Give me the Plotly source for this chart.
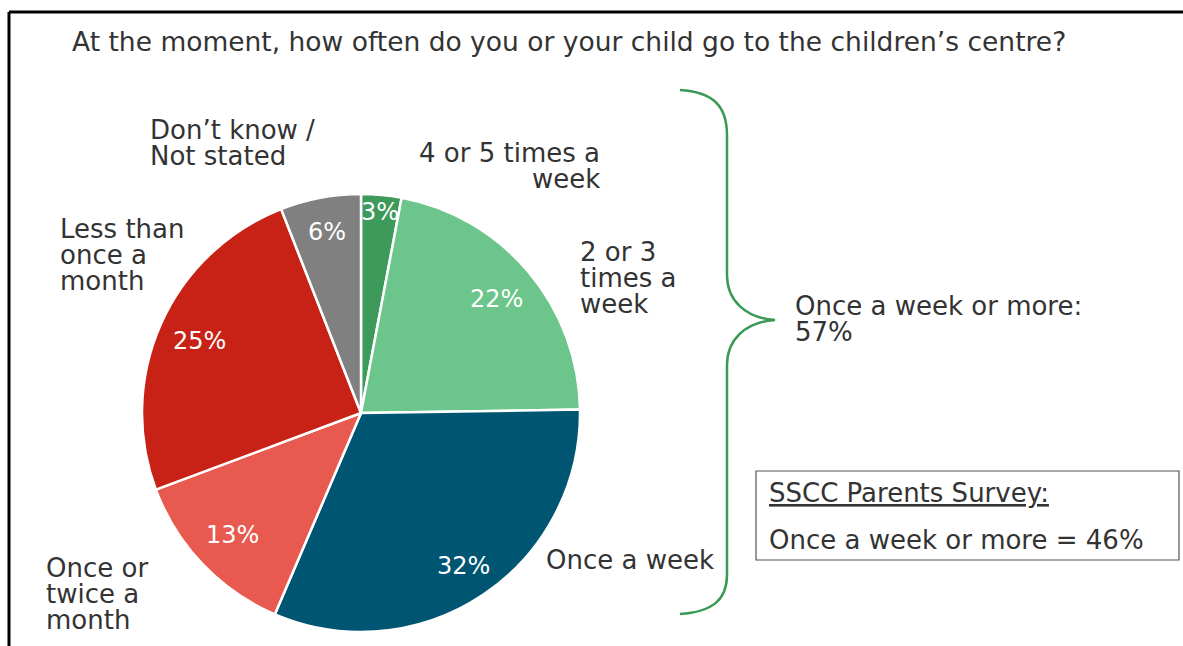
import math
import plotly.graph_objects as go

W, H = 1183, 646

# data
categories = ["4 or 5 times a week", "2 or 3 times a week", "Once a week",
              "Once or twice a month", "Less than once a month", "Don’t know / Not stated"]
shares = [3, 22, 32, 13, 25, 6]
colors = ["#3d9a5a", "#6cc58a", "#005672", "#e85a4f", "#c82216", "#808080"]
label_radius = [0.92, 0.81, 0.84, 0.81, 0.81, 0.84]  # fraction of pie radius for % text

title = "At the moment, how often do you or your child go to the children’s centre?"
brace_text = ["Once a week or more:", "57%"]
survey_title = "SSCC Parents Survey:"
survey_text = "Once a week or more = 46%"

TXT = "#333333"
FONT = "DejaVu Sans"
LBL = 26

# pie geometry in pixels
cx, cy, R = 361, 413, 219


def px(x):
    return x / W


def py(y):
    return 1 - y / H


fig = go.Figure()
fig.add_trace(go.Pie(
    labels=categories, values=shares, sort=False, direction="clockwise", rotation=0,
    marker=dict(colors=colors, line=dict(color="white", width=2.5)),
    textinfo="none", hoverinfo="label+value", showlegend=False,
    domain=dict(x=[px(cx - R), px(cx + R)], y=[py(cy + R), py(cy - R)]),
))

annotations = []


def add_text(x, y, text, size=LBL, color=TXT, anchor="left", **kw):
    annotations.append(dict(x=px(x), y=py(y), xref="paper", yref="paper", text=text,
                            showarrow=False, xanchor=anchor, yanchor="middle",
                            font=dict(family=FONT, size=size, color=color), **kw))


# percentage labels inside slices, placed at the slice mid-angle
total = sum(shares)
cum = 0
for v, rf in zip(shares, label_radius):
    mid = (cum + v / 2) / total * 2 * math.pi
    cum += v
    lx = cx + rf * R * math.sin(mid)
    ly = cy - rf * R * math.cos(mid)
    add_text(lx, ly, f"{v}%", size=24, color="white", anchor="center")

# category labels (one annotation per line for tight spacing)
LS = 26
outside = [
    (148, 130, ["Don’t know /", "Not stated"], "left"),
    (602, 153, ["4 or 5 times a", "week"], "right"),
    (578, 252, ["2 or 3", "times a", "week"], "left"),
    (544, 560, ["Once a week"], "left"),
    (44, 568, ["Once or", "twice a", "month"], "left"),
    (58, 229, ["Less than", "once a", "month"], "left"),
]
for x, y, lines, anc in outside:
    for i, line in enumerate(lines):
        add_text(x, y + i * LS, line, anchor=anc)

add_text(70, 42, title, size=26.5)
for i, line in enumerate(brace_text):
    add_text(793, 306 + i * LS, line)
add_text(767, 493, f"<u>{survey_title}</u>")
add_text(767, 540, survey_text)


def pt(x, y):
    return f"{px(x):.5f},{py(y):.5f}"


brace = (f"M {pt(680, 90)} C {pt(712, 92)} {pt(727, 105)} {pt(727, 135)} "
         f"L {pt(727, 275)} C {pt(727, 300)} {pt(745, 318)} {pt(775, 320)} "
         f"C {pt(745, 322)} {pt(727, 340)} {pt(727, 365)} "
         f"L {pt(727, 575)} C {pt(727, 600)} {pt(712, 612)} {pt(680, 614)}")

shapes = [
    dict(type="path", path=brace, xref="paper", yref="paper",
         line=dict(color="#3a9a55", width=2.5)),
    dict(type="rect", xref="paper", yref="paper", x0=px(756), x1=px(1179), y0=py(471), y1=py(560),
         line=dict(color="#555555", width=1.2)),
    dict(type="line", xref="paper", yref="paper", x0=px(9), x1=1, y0=py(12), y1=py(12),
         line=dict(color="black", width=3)),
    dict(type="line", xref="paper", yref="paper", x0=px(9), x1=px(9), y0=py(12), y1=0,
         line=dict(color="black", width=3)),
]

fig.update_layout(
    width=W, height=H, autosize=False,
    margin=dict(l=0, r=0, t=0, b=0),
    paper_bgcolor="white", plot_bgcolor="white",
    annotations=annotations, shapes=shapes,
    font=dict(family=FONT, color=TXT),
)

fig.write_html("out.html", config={"displayModeBar": False},
               post_script="document.body.style.margin='0';")
